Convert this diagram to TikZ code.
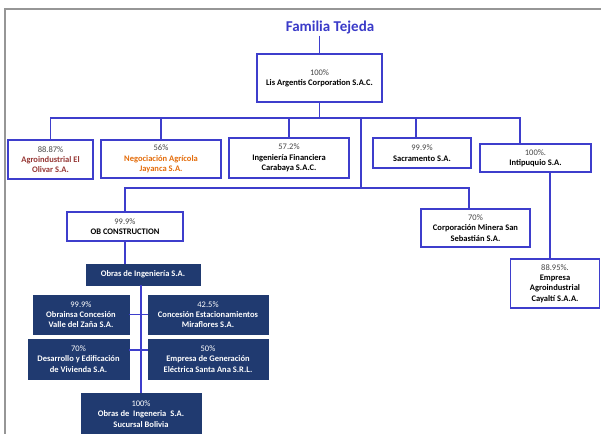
\documentclass[tikz,border=0pt]{standalone}
\usepackage{fontspec}
\setmainfont{Carlito}
\definecolor{lineblue}{RGB}{62,62,204}
\definecolor{titleblue}{RGB}{58,58,200}
\definecolor{navy}{RGB}{32,58,112}
\definecolor{framegrey}{RGB}{150,150,150}
\definecolor{pctgrey}{RGB}{70,70,70}
\definecolor{brownred}{RGB}{150,55,52}
\definecolor{orangetx}{RGB}{228,108,10}
\newcommand\pcw[1]{{\mdseries\color{pctgrey}#1}}
\newcommand\pcn[1]{{\mdseries\color{white}#1}}
\begin{document}
\begin{tikzpicture}[x=1pt,y=-1pt,
  wbox/.style={draw=lineblue, line width=1.7pt, fill=white, inner sep=1pt, align=center,
    font=\fontsize{8.5}{10.3}\selectfont\bfseries, text=black},
  nbox/.style={draw=navy, line width=0.8pt, fill=navy, inner sep=1pt, align=center,
    font=\fontsize{8.5}{10.3}\selectfont\bfseries, text=white},
  conn/.style={draw=lineblue, line width=1.7pt}]
\useasboundingbox (0,0) rectangle (601,433);
\draw[framegrey, line width=1.5pt] (5,434) -- (5,9) -- (602,9);

\node[font=\fontsize{15}{17}\selectfont\bfseries, text=titleblue, inner sep=1pt] (title) at (330,28) {Familia Tejeda};

\node[wbox, minimum width=125pt, minimum height=48pt] (lis) at (319.5,78) {\pcw{100\%}\\Lis Argentis Corporation S.A.C.};

\node[wbox, minimum width=85pt, minimum height=39pt] (agro) at (50.5,159.5) {\pcw{88.87\%}\\\color{brownred}Agroindustrial El\\\color{brownred}Olivar S.A.};
\node[wbox, minimum width=120pt, minimum height=38pt] (neg) at (161,159) {\pcw{56\%}\\\color{orangetx}Negociación Agrícola\\\color{orangetx}Jayanca S.A.};
\node[wbox, minimum width=120pt, minimum height=40pt] (ing) at (289,158) {\pcw{57.2\%}\\Ingeniería Financiera\\Carabaya S.A.C.};
\node[wbox, minimum width=98pt, minimum height=30pt] (sac) at (422,153) {\pcw{99.9\%}\\Sacramento S.A.};
\node[wbox, minimum width=111pt, minimum height=28pt] (inti) at (535.5,158) {\pcw{100\%.}\\Intipuquio S.A.};

\node[wbox, minimum width=116pt, minimum height=29pt] (ob) at (125,226.5) {\pcw{99.9\%}\\OB CONSTRUCTION};
\node[wbox, minimum width=109pt, minimum height=38pt] (corp) at (475.5,228) {\pcw{70\%}\\Corporación Minera San\\Sebastián S.A.};
\node[wbox, minimum width=89pt, minimum height=49pt] (emp) at (555,283.5) {\pcw{88.95\%.}\\Empresa\\Agroindustrial\\Cayaltí S.A.A.};

\node[nbox, minimum width=114pt, minimum height=21pt] (obras) at (143,274.5) {Obras de Ingeniería S.A.};
\node[nbox, minimum width=96pt, minimum height=39pt] (obrainsa) at (81,314.5) {\pcn{99.9\%}\\Obrainsa Concesión\\Valle del Zaña S.A.};
\node[nbox, minimum width=120pt, minimum height=39pt] (conc) at (208,314.5) {\pcn{42.5\%}\\Concesión Estacionamientos\\Miraflores S.A.};
\node[nbox, minimum width=101pt, minimum height=40pt] (des) at (78.5,359) {\pcn{70\%}\\Desarrollo y Edificación\\de Vivienda S.A.};
\node[nbox, minimum width=120pt, minimum height=40pt] (empgen) at (208,359) {\pcn{50\%}\\Empresa de Generación\\Eléctrica Santa Ana S.R.L.};
\node[nbox, minimum width=120pt, minimum height=42pt] (bol) at (141,414) {\pcn{100\%}\\Obras de\ \ Ingeneria\ \ S.A.\\Sucursal Bolivia};

\coordinate (busy) at (0,118);
\coordinate (bustwoy) at (0,188);
\coordinate (split) at (361,118);

\draw[conn] (title.south -| lis.north) -- (lis.north);
\draw[conn] (lis.south) -- (lis.south |- busy);
\draw[conn] (agro.north) -- (agro.north |- busy) -- ([xshift=-15.5pt]inti.north |- busy) -- ([xshift=-15.5pt]inti.north);
\draw[conn] (neg.north) -- (neg.north |- busy);
\draw[conn] (ing.north) -- (ing.north |- busy);
\draw[conn] ([xshift=-6pt]sac.north) -- ([xshift=-6pt]sac.north |- busy);
\draw[conn] (split) -- (split |- bustwoy);
\draw[conn] (ob.north) -- (ob.north |- bustwoy) -- ([xshift=-6.5pt]corp.north |- bustwoy) -- ([xshift=-6.5pt]corp.north);
\draw[conn] ([xshift=14.5pt]inti.south) -- ([xshift=14.5pt]inti.south |- emp.north);
\draw[conn] (ob.south) -- (ob.south |- obras.north);
\draw[conn] ([xshift=-2pt]obras.south) -- ([xshift=-2pt]obras.south |- bol.north);
\draw[conn] (obrainsa.east) -- (conc.west);
\draw[conn] ([yshift=9pt]des.east) -- ([yshift=9pt]empgen.west);
\end{tikzpicture}
\end{document}
